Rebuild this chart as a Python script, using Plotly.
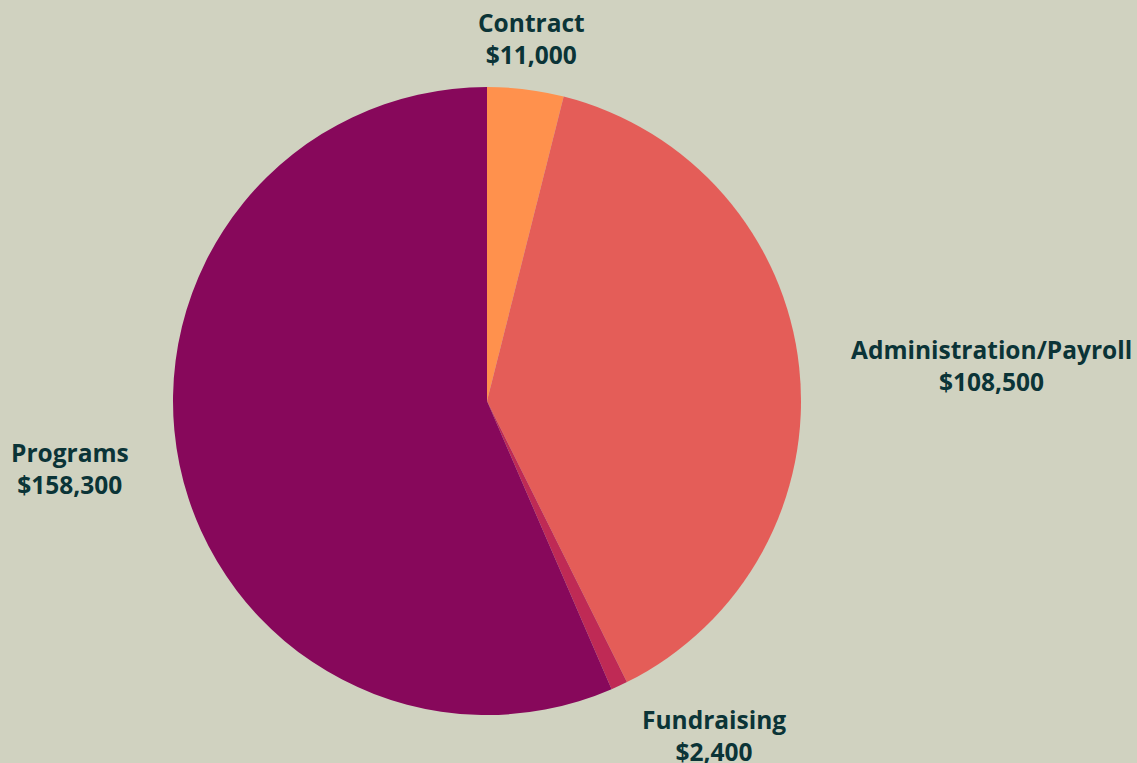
import math
import plotly.graph_objects as go

categories = ["Contract", "Administration/Payroll", "Fundraising", "Programs"]
values = [11000, 108500, 2400, 158300]
colors = ["#FF914D", "#E45D58", "#BF2A55", "#87085B"]

W, H = 1137, 763
cx, cy, r = 487, 401, 314
rx_lab, ry_lab = 364, 331

dom = dict(x=[(cx - r) / W, (cx + r) / W],
           y=[1 - (cy + r) / H, 1 - (cy - r) / H])

fig = go.Figure()
fig.add_trace(go.Pie(
    labels=categories, values=values, sort=False, direction="clockwise",
    rotation=0, marker=dict(colors=colors, line=dict(width=0)),
    textinfo="none", hoverinfo="label+value", domain=dom, showlegend=False,
))

total = sum(values)
cum = 0
for lab, v in zip(categories, values):
    mid = (cum + v / 2) / total * 2 * math.pi
    cum += v
    s, c = math.sin(mid), math.cos(mid)
    px = cx + rx_lab * s
    py = cy - ry_lab * c
    xa = "left" if s > 0.3 else ("right" if s < -0.3 else "center")
    ya = "bottom" if c > 0.3 else ("top" if c < -0.3 else "middle")
    fig.add_annotation(
        x=px / W, y=1 - py / H, xref="paper", yref="paper",
        text=f"<b>{lab}</b><br><b>${v:,}</b>", showarrow=False,
        xanchor=xa, yanchor=ya, align="center",
        font=dict(family="Open Sans", size=24.5, color="#0B3437"),
    )

fig.update_layout(
    width=W, height=H, margin=dict(l=0, r=0, t=0, b=0),
    paper_bgcolor="#D0D2C0", plot_bgcolor="#D0D2C0",
)
fig.write_html("out.html", config={"displayModeBar": False},
               post_script="document.body.style.margin='0';")
